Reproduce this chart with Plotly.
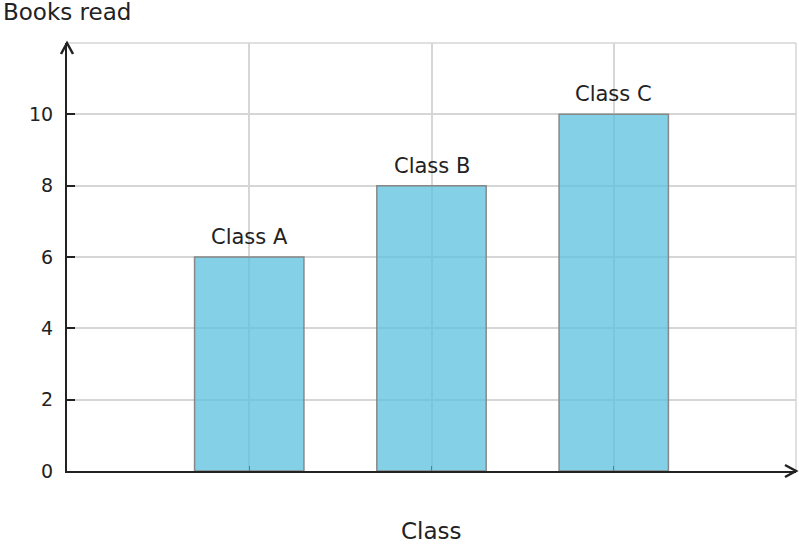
import plotly.graph_objects as go

classes = ["Class A", "Class B", "Class C"]
books = [6, 8, 10]
y_ticks = [0, 2, 4, 6, 8, 10]

ink = "#222222"
grid = "#d6d6d6"

W, H = 799, 548
L, R, T, B = 67, 3, 43, 77
pw, ph = W - L - R, H - T - B

fig = go.Figure(go.Bar(
    x=classes, y=books, width=0.6,
    marker=dict(color="rgba(91,192,222,0.75)", line=dict(color="#888888", width=1.5)),
    hoverinfo="skip",
))

# labels above bars
for c, v in zip(classes, books):
    fig.add_annotation(x=c, y=v, text=c, showarrow=False, yanchor="middle", yshift=20,
                       font=dict(size=21, color=ink))

# top / right grid lines (the axis range ends there)
fig.add_shape(type="line", xref="paper", yref="paper", x0=0, x1=1, y0=1, y1=1,
              line=dict(color=grid, width=1.5), layer="below")
fig.add_shape(type="line", xref="paper", yref="paper", x0=1, x1=1, y0=0, y1=1,
              line=dict(color=grid, width=1.5), layer="below")

# axis arrow heads (open chevrons)
ax_len, ax_half = 11, 6
dx, dy = ax_len / pw, ax_half / ph
fig.add_shape(type="path", xref="paper", yref="paper",
              path=f"M {1 - dx} {dy} L 1 0 L {1 - dx} {-dy}",
              line=dict(color=ink, width=2.5))
dx2, dy2 = ax_half / pw, ax_len / ph
fig.add_shape(type="path", xref="paper", yref="paper",
              path=f"M {-dx2} {1 - dy2} L 0 1 L {dx2} {1 - dy2}",
              line=dict(color=ink, width=2.5))

# axis titles
fig.add_annotation(xref="paper", yref="paper", x=(1 - L) / pw, y=(H - B - 12) / ph,
                   xanchor="left", yanchor="middle",
                   text="Books read", showarrow=False, font=dict(size=23, color=ink))
fig.add_annotation(xref="paper", yref="paper", x=0.5, y=(H - B - 531) / ph,
                   xanchor="center", yanchor="middle",
                   text="Class", showarrow=False, font=dict(size=23, color=ink))

fig.update_xaxes(range=[-1, 3], showgrid=True, gridcolor=grid, gridwidth=1.5,
                 showticklabels=False, ticks="inside", ticklen=5, tickcolor="#557f90",
                 showline=True, linecolor=ink, linewidth=2, zeroline=False, fixedrange=True)
fig.update_yaxes(range=[0, 12], tickvals=y_ticks, showgrid=True, gridcolor=grid, gridwidth=1.5,
                 ticks="inside", ticklen=8, tickcolor=ink, tickwidth=2,
                 tickfont=dict(size=19, color=ink), ticklabelstandoff=8,
                 showline=True, linecolor=ink, linewidth=2, zeroline=False, fixedrange=True)

fig.update_layout(
    width=W, height=H,
    margin=dict(l=L, r=R, t=T, b=B),
    plot_bgcolor="white", paper_bgcolor="white",
    font=dict(family="DejaVu Sans", color=ink),
    showlegend=False,
)

fig.write_html("out.html", config={"displayModeBar": False},
               post_script="document.body.style.margin='0';")
